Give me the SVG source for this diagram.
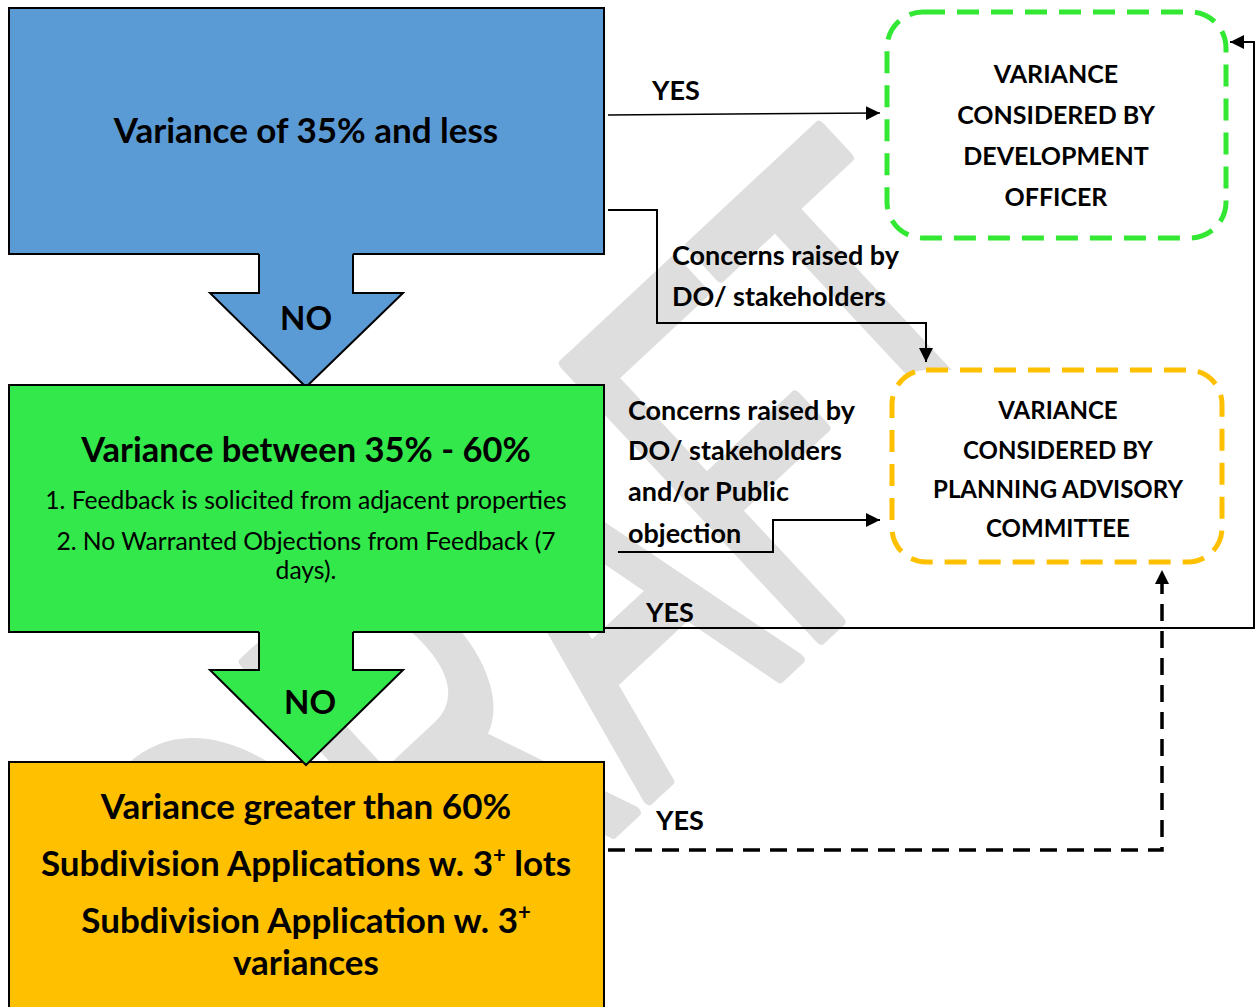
<svg xmlns="http://www.w3.org/2000/svg" width="1255" height="1007" viewBox="0 0 1255 1007">
<defs>
<marker id="ah" viewBox="0 0 10 10" refX="10" refY="5" markerWidth="14" markerHeight="14" markerUnits="userSpaceOnUse" orient="auto">
<path d="M0,0 L10,5 L0,10 z" fill="#000"/>
</marker>
<style>
.t{font-family:Lato,"Liberation Sans",sans-serif;fill:#000}
.b{font-weight:bold}
.m{text-anchor:middle}
.title{font-size:35px}
.title2{font-size:34.5px}
.body{font-size:24.7px}
.cap{font-size:25px}
.cap2{font-size:24px}
.lbl{font-size:27px}
.no{font-size:33px}
.box{stroke:#000;stroke-width:2}
.conn{fill:none;stroke:#000}
</style>
</defs>
<rect width="1255" height="1007" fill="#fff"/>
<g id="watermark">
<text transform="translate(314,1111) rotate(-43) scale(3.15,5.45)" font-family="Liberation Sans, sans-serif" font-size="100" fill="#dedede" stroke="#dedede" stroke-width="10" stroke-linejoin="round" vector-effect="non-scaling-stroke">DRAFT</text>
</g>
<g id="node-blue">
<rect class="box" x="9" y="8" width="595" height="246" fill="#5b9bd5"/>
<text class="t b m title" x="306" y="143">Variance of 35% and less</text>
</g>
<g id="arrow-no-1">
<polygon points="259,253 353,253 353,293 403,293 306,387 210,293 259,293" fill="#5b9bd5"/>
<path d="M259,254 V293 H210 L306,387 L403,293 H353 V254" fill="none" stroke="#000" stroke-width="2"/>
<text class="t b m no" x="306" y="330">NO</text>
</g>
<g id="node-green">
<rect class="box" x="9" y="385" width="595" height="247" fill="#32e84b"/>
<text class="t b m title2" x="306" y="462">Variance between 35% - 60%</text>
<text class="t m body" x="306" y="509">1. Feedback is solicited from adjacent properties</text>
<text class="t m body" x="306" y="550">2. No Warranted Objections from Feedback (7</text>
<text class="t m body" x="306" y="579">days).</text>
</g>
<g id="node-orange">
<rect class="box" x="9" y="762" width="595" height="260" fill="#ffc000"/>
<text class="t b m title" x="306" y="819">Variance greater than 60%</text>
<text class="t b m title" x="306" y="876">Subdivision Applications w. 3<tspan dy="-13" font-size="22">+</tspan><tspan dy="13"> lots</tspan></text>
<text class="t b m title" x="306" y="933">Subdivision Application w. 3<tspan dy="-13" font-size="22">+</tspan></text>
<text class="t b m title" x="306" y="975">variances</text>
</g>
<g id="arrow-no-2">
<polygon points="259,631 353,631 353,670 403,670 306,765 210,670 259,670" fill="#32e84b"/>
<path d="M259,632 V670 H210 L306,765 L403,670 H353 V632" fill="none" stroke="#000" stroke-width="2"/>
<text class="t b m no" x="310" y="714">NO</text>
</g>
<g id="node-do">
<rect x="887" y="12" width="339" height="226" rx="36" fill="#fff" stroke="#33e833" stroke-width="5" stroke-dasharray="22 12"/>
<text class="t b m cap" x="1056" y="83">VARIANCE</text>
<text class="t b m cap" x="1056" y="124">CONSIDERED BY</text>
<text class="t b m cap" x="1056" y="165">DEVELOPMENT</text>
<text class="t b m cap" x="1056" y="206">OFFICER</text>
</g>
<g id="node-pac">
<rect x="892" y="370" width="330" height="192" rx="34" fill="#fff" stroke="#ffc000" stroke-width="5" stroke-dasharray="22 12"/>
<text class="t b m cap2" x="1058" y="419">VARIANCE</text>
<text class="t b m cap2" x="1058" y="459">CONSIDERED BY</text>
<text class="t b m cap2" x="1058" y="498">PLANNING ADVISORY</text>
<text class="t b m cap2" x="1058" y="537">COMMITTEE</text>
</g>
<g id="connectors">
<path class="conn" d="M608,115 L880,113" style="stroke-width:1.5" marker-end="url(#ah)"/>
<path class="conn" d="M608,210 H657 V323 H926 V362" style="stroke-width:2" marker-end="url(#ah)"/>
<path class="conn" d="M618,552 H773 V520 H880" style="stroke-width:2" marker-end="url(#ah)"/>
<path class="conn" d="M604,628 H1254 V42 H1230" style="stroke-width:2" marker-end="url(#ah)"/>
<path class="conn" d="M608,850 H1162 V570" style="stroke-width:3.5;stroke-dasharray:17 10" marker-end="url(#ah)"/>
<text class="t b lbl" x="652" y="100">YES</text>
<text class="t b lbl" x="672" y="265">Concerns raised by</text>
<text class="t b lbl" x="672" y="306">DO/ stakeholders</text>
<text class="t b lbl" x="628" y="420">Concerns raised by</text>
<text class="t b lbl" x="628" y="460">DO/ stakeholders</text>
<text class="t b lbl" x="628" y="501">and/or Public</text>
<text class="t b lbl" x="628" y="543">objection</text>
<text class="t b lbl" x="646" y="622">YES</text>
<text class="t b lbl" x="656" y="830">YES</text>
</g>
</svg>
